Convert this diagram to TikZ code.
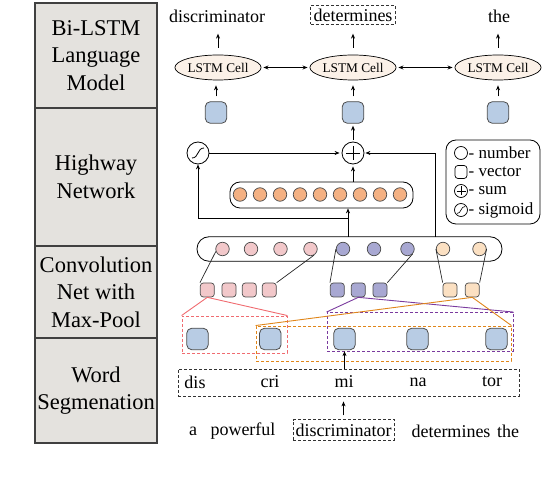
\documentclass[tikz,border=0pt]{standalone}
\usepackage{fontspec}
\setmainfont{Liberation Serif}
\usetikzlibrary{shapes.geometric,arrows.meta,calc}
\definecolor{panelgray}{HTML}{E4E2DE}
\definecolor{sqblue}{HTML}{B8CCE4}
\definecolor{cellfill}{HTML}{FBF1E8}
\definecolor{orgdot}{HTML}{F4B183}
\definecolor{pinkdot}{HTML}{F2C8CA}
\definecolor{purpdot}{HTML}{A8A8D2}
\definecolor{peachdot}{HTML}{FBE0C2}
\definecolor{pinkline}{HTML}{F06B70}
\definecolor{purpline}{HTML}{7A3A9E}
\definecolor{orgline}{HTML}{E0861A}
\begin{document}
\begin{tikzpicture}[x=1pt,y=-1pt,
  >={Stealth[length=5pt,width=4pt]},
  panel/.style={draw=black!75, line width=1.5pt, fill=panelgray, minimum width=122pt, inner sep=0pt, align=center, font=\fontsize{22.5}{27.5}\selectfont},
  lbl/.style={font=\fontsize{18}{20}\selectfont, inner sep=0pt},
  cell/.style={ellipse, draw=black, line width=0.7pt, fill=cellfill, minimum width=72pt, minimum height=25pt, inner sep=0pt, font=\fontsize{13.3}{15}\selectfont},
  bsq/.style={draw=black!70, fill=sqblue, rounded corners=5pt, minimum size=21.5pt, inner sep=0pt, line width=0.8pt},
  ssq/.style={draw=black!70, rounded corners=3pt, minimum width=14pt, minimum height=14pt, inner sep=0pt, line width=0.7pt},
  dot/.style={circle, draw=black!70, minimum size=13.5pt, inner sep=0pt, line width=0.7pt},
  opc/.style={circle, draw=black, minimum size=22pt, inner sep=0pt, line width=0.8pt},
  arr/.style={->, line width=0.8pt},
  ln/.style={line width=0.7pt, draw=black!85},
  dbox/.style={draw=black!80, densely dashed, line width=0.8pt},
  cbox/.style={densely dashed, line width=0.9pt, draw=#1},
  cline/.style={line width=0.9pt, draw=#1}
]
\useasboundingbox (0,0) rectangle (550,478);

% left panel
\node[panel, minimum height=105pt] (p1) at (96,55.5) {Bi-LSTM\\Language\\Model};
\node[panel, minimum height=138pt] (p2) at (96,177) {Highway\\Network};
\node[panel, minimum height=92pt] (p3) at (96,292) {Convolution\\Net with\\Max-Pool};
\node[panel, minimum height=105pt] (p4) at (96,390.5) {Word\\Segmenation};

% top labels
\node[lbl] (w1) at (217,16) {discriminator};
\node[lbl, dbox, inner xsep=3pt, inner ysep=3pt] (w2) at (353,15) {determines};
\node[lbl] (w3) at (499,16) {the};

% LSTM cells
\node[cell] (c1) at (218,67.5) {LSTM Cell};
\node[cell] (c2) at (353,67.5) {LSTM Cell};
\node[cell] (c3) at (498,67.5) {LSTM Cell};
\draw[arr] ($(c1.north)+(0,-7)$) -- ($(c1.north)+(0,-21)$);
\draw[arr] ($(c2.north)+(0,-7)$) -- ($(c2.north)+(0,-21)$);
\draw[arr] ($(c3.north)+(0,-7)$) -- ($(c3.north)+(0,-21)$);
\draw[<->, line width=0.8pt, shorten <=2pt, shorten >=2pt] (c1) -- (c2);
\draw[<->, line width=0.8pt, shorten <=2pt, shorten >=2pt] (c2) -- (c3);

% blue squares above highway
\node[bsq] (h1) at (216,112.5) {};
\node[bsq] (h2) at (353,112.5) {};
\node[bsq] (h3) at (498,112.5) {};
\draw[arr, shorten <=5pt, shorten >=5pt] (h1.north) -- (h1.north |- c1.south);
\draw[arr, shorten <=5pt, shorten >=5pt] (h2.north) -- (c2.south);
\draw[arr, shorten <=5pt, shorten >=5pt] (h3.north) -- (c3.south);

% highway
\node[opc] (sg) at (198,153) {};
\draw[line width=0.8pt, shift={(sg.center)}] (-6,5) .. controls (1,5) and (-1,-5) .. (6,-5);
\node[opc] (pl) at (353,153) {};
\draw[line width=0.9pt] ($(pl.center)+(-7,0)$) -- ($(pl.center)+(7,0)$) ($(pl.center)+(0,-7)$) -- ($(pl.center)+(0,7)$);
\draw[arr, shorten >=2pt] (sg) -- (pl);
\draw[arr, shorten <=2pt, shorten >=2pt] (pl) -- (h2);

\node[draw=black, line width=0.8pt, rounded corners=10pt, minimum width=183pt, minimum height=26pt, inner sep=0pt] (hw) at (321.5,195) {};
\foreach \i in {0,...,8} {
  \node[dot, fill=orgdot] (o\i) at (240+20*\i,194.5) {};
}
\draw[arr, shorten >=2pt] (hw.north -| pl) -- (pl);

% conv box
\node[draw=black, line width=0.8pt, rounded corners=12pt, minimum width=305pt, minimum height=24.5pt, inner sep=0pt] (cv) at (349.5,249) {};
\node[dot, fill=pinkdot] (pc1) at (222.5,249) {};
\node[dot, fill=pinkdot] (pc2) at (251,249) {};
\node[dot, fill=pinkdot] (pc3) at (280.5,249) {};
\node[dot, fill=pinkdot] (pc4) at (310.5,249) {};
\node[dot, fill=purpdot] (uc1) at (343,249) {};
\node[dot, fill=purpdot] (uc2) at (374,249) {};
\node[dot, fill=purpdot] (uc3) at (407.5,249) {};
\node[dot, fill=peachdot] (ec1) at (443,249) {};
\node[dot, fill=peachdot] (ec2) at (479.5,249) {};

% connections conv -> highway
\coordinate (inx) at (348,237);
\coordinate (br) at (348,218);
\draw[arr] (inx) -- (inx |- hw.south);
\draw[arr] (br) -| (sg.south);
\coordinate (rx) at (435,237);
\draw[arr, shorten >=1pt] (rx) |- (pl.east);

% legend
\node[draw=black, line width=0.8pt, rounded corners=10pt, minimum width=94pt, minimum height=84pt, inner sep=0pt] (lg) at (493,182) {};
\node[circle, draw=black, line width=0.7pt, minimum size=13pt, inner sep=0pt] (l1) at (461,153) {};
\node[draw=black, line width=0.7pt, rounded corners=3pt, minimum width=12pt, minimum height=13pt, inner sep=0pt] (l2) at (461,172) {};
\node[circle, draw=black, line width=0.7pt, minimum size=13pt, inner sep=0pt] (l3) at (461,191) {};
\draw[line width=0.7pt] ($(l3.center)+(-4.5,0)$) -- ($(l3.center)+(4.5,0)$) ($(l3.center)+(0,-4.5)$) -- ($(l3.center)+(0,4.5)$);
\node[circle, draw=black, line width=0.7pt, minimum size=13pt, inner sep=0pt] (l4) at (461,210) {};
\draw[line width=0.6pt, shift={(l4.center)}] (-4,3.5) .. controls (0.5,3.5) and (-0.5,-3.5) .. (4,-3.5);
\node[lbl, font=\fontsize{17}{19}\selectfont, anchor=west] (t1) at (468.5,153) {- number};
\node[lbl, font=\fontsize{17}{19}\selectfont, anchor=west] (t2) at (468.5,172) {- vector};
\node[lbl, font=\fontsize{17}{19}\selectfont, anchor=west] (t3) at (468.5,191) {- sum};
\node[lbl, font=\fontsize{17}{19}\selectfont, anchor=west] (t4) at (468.5,210) {- sigmoid};

% small squares
\node[ssq, fill=pinkdot] (ps1) at (207.3,290) {};
\node[ssq, fill=pinkdot] (ps2) at (229,290) {};
\node[ssq, fill=pinkdot] (ps3) at (249.3,290) {};
\node[ssq, fill=pinkdot] (ps4) at (269.3,290) {};
\node[ssq, fill=purpdot] (us1) at (337.3,290) {};
\node[ssq, fill=purpdot] (us2) at (358.3,290) {};
\node[ssq, fill=purpdot] (us3) at (380,290) {};
\node[ssq, fill=peachdot] (es1) at (450,290) {};
\node[ssq, fill=peachdot] (es2) at (472.3,290) {};

\draw[ln] (pc1.200) -- (ps1.north west);
\draw[ln] (pc4.300) -- (ps4.north east);
\draw[ln] (uc1.west) -- (us1.north west);
\draw[ln] (uc3.315) -- (us3.north east);
\draw[ln] (ec1.west) -- (es1.north west);
\draw[ln] (ec2.east) -- (es2.north east);

% colored dashed boxes
\node[cbox=pinkline, minimum width=105pt, minimum height=37pt, inner sep=0pt] (pb) at (234.5,334.5) {};
\node[cbox=purpline, minimum width=186pt, minimum height=39pt, inner sep=0pt] (ub) at (420,332) {};
\node[cbox=orgline, minimum width=255pt, minimum height=35pt, inner sep=0pt] (ob) at (383.5,343.5) {};
\draw[cline=pinkline] (pb.north west) -- (ps1.south) -- (pb.north east);
\draw[cline=purpline] (ub.north west) -- (us2.south) -- (ub.north east);
\draw[cline=orgline] (ob.north west) -- (es2.south) -- (ob.north east);

% big blue squares
\node[bsq] (b1) at (197.5,339) {};
\node[bsq] (b2) at (270.3,339) {};
\node[bsq] (b3) at (344.5,339) {};
\node[bsq] (b4) at (417.5,339) {};
\node[bsq] (b5) at (496.5,339) {};

% segmentation
\node[dbox, minimum width=341pt, minimum height=27pt, inner sep=0pt] (seg) at (348.5,382.5) {};
\node[lbl] (s1) at (195,382) {dis};
\node[lbl] (s2) at (270,382) {cri};
\node[lbl] (s3) at (344,382) {mi};
\node[lbl] (s4) at (418,382) {na};
\node[lbl] (s5) at (492,382) {tor};
\draw[arr, shorten >=1pt] (seg.north -| b3) -- (b3.south);

% sentence
\node[lbl] (a1) at (193,431) {a};
\node[lbl] (a2) at (243,431) {powerful};
\node[lbl, dbox, inner xsep=2.5pt, inner ysep=4pt] (a3) at (343.5,430) {discriminator};
\node[lbl] (a4) at (451,431) {determines};
\node[lbl] (a5) at (508,431) {the};
\draw[arr, shorten <=4pt, shorten >=5pt] (a3.north) -- (a3.north |- seg.south);
\end{tikzpicture}
\end{document}
